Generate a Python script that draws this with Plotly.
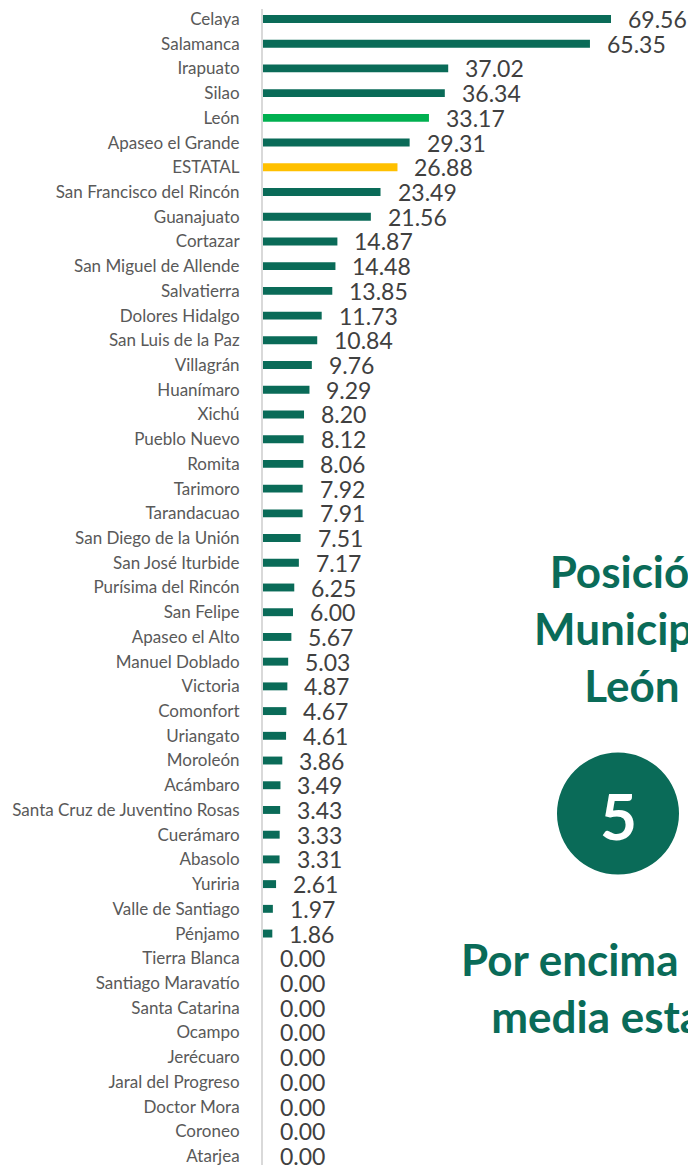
import plotly.graph_objects as go

categories = [
    "Celaya", "Salamanca", "Irapuato", "Silao", "León", "Apaseo el Grande", "ESTATAL",
    "San Francisco del Rincón", "Guanajuato", "Cortazar", "San Miguel de Allende",
    "Salvatierra", "Dolores Hidalgo", "San Luis de la Paz", "Villagrán", "Huanímaro",
    "Xichú", "Pueblo Nuevo", "Romita", "Tarimoro", "Tarandacuao", "San Diego de la Unión",
    "San José Iturbide", "Purísima del Rincón", "San Felipe", "Apaseo el Alto",
    "Manuel Doblado", "Victoria", "Comonfort", "Uriangato", "Moroleón", "Acámbaro",
    "Santa Cruz de Juventino Rosas", "Cuerámaro", "Abasolo", "Yuriria", "Valle de Santiago",
    "Pénjamo", "Tierra Blanca", "Santiago Maravatío", "Santa Catarina", "Ocampo",
    "Jerécuaro", "Jaral del Progreso", "Doctor Mora", "Coroneo", "Atarjea",
]
values = [
    69.56, 65.35, 37.02, 36.34, 33.17, 29.31, 26.88,
    23.49, 21.56, 14.87, 14.48,
    13.85, 11.73, 10.84, 9.76, 9.29,
    8.20, 8.12, 8.06, 7.92, 7.91, 7.51,
    7.17, 6.25, 6.00, 5.67,
    5.03, 4.87, 4.67, 4.61, 3.86, 3.49,
    3.43, 3.33, 3.31, 2.61, 1.97,
    1.86, 0.00, 0.00, 0.00, 0.00,
    0.00, 0.00, 0.00, 0.00, 0.00,
]
highlight_name = "León"
state_name = "ESTATAL"
position_text = "Posición<br>Municipio<br>León"
rank_text = "5"
note_text = "Por encima de la<br>media estatal"

DARK = "#0a6b58"
LEON = "#00b050"
STATE = "#ffc000"

colors = [LEON if c == highlight_name else STATE if c == state_name else DARK for c in categories]

# page body has an 8px margin; design in window pixels and convert
OFF = 8
WIN_W, WIN_H = 696, 1166
W, H = WIN_W - OFF, WIN_H - OFF
AXIS_X = 263 - OFF
PW = W - AXIS_X

fig = go.Figure()
fig.add_trace(go.Bar(
    x=values, y=categories, orientation="h",
    marker=dict(color=colors, line=dict(width=0)),
    width=0.32, hoverinfo="skip",
))

annotations = []
for c, v in zip(categories, values):
    annotations.append(dict(
        x=v, y=c, xref="x", yref="y", text=f"{v:.2f}", showarrow=False,
        xanchor="left", yanchor="middle", xshift=15,
        font=dict(family="Lato", size=23, color="#404040"),
    ))

def px_x(p):
    return (p - OFF - AXIS_X) / PW

def px_y(p):
    return 1 - (p - OFF) / H

annotations.append(dict(
    x=px_x(632), y=px_y(628), xref="paper", yref="paper", text=position_text,
    showarrow=False, xanchor="center", yanchor="middle", align="center",
    font=dict(family="Lato", size=44, color=DARK, weight="bold"),
))
annotations.append(dict(
    x=px_x(618), y=px_y(816), xref="paper", yref="paper", text=rank_text,
    showarrow=False, xanchor="center", yanchor="middle",
    font=dict(family="Lato", size=64, color="white", weight="bold"),
))
annotations.append(dict(
    x=px_x(621), y=px_y(988), xref="paper", yref="paper", text=note_text,
    showarrow=False, xanchor="center", yanchor="middle", align="center",
    font=dict(family="Lato", size=44, color=DARK, weight="bold"),
))

n = len(categories)
step = (1157 - 18) / (n - 1)
y_top = -(18 - OFF) / step
y_bot = (n - 1) + (WIN_H - 1157) / step

fig.add_shape(
    type="circle", xref="paper", yref="paper",
    xsizemode="pixel", ysizemode="pixel",
    xanchor=px_x(618), yanchor=px_y(814),
    x0=-61, x1=61, y0=-61, y1=61,
    fillcolor=DARK, line=dict(width=0), layer="below",
)

scale = 5.003
fig.update_layout(
    width=W, height=H,
    margin=dict(l=AXIS_X, r=0, t=0, b=0),
    paper_bgcolor="white", plot_bgcolor="white",
    showlegend=False,
    annotations=annotations,
    xaxis=dict(range=[0, PW / scale], visible=False, fixedrange=True),
    yaxis=dict(
        type="category", categoryorder="array", categoryarray=categories,
        range=[y_bot, y_top], showgrid=False, zeroline=False,
        showline=True, linecolor="#d9d9d9", linewidth=2,
        ticks="", ticklabelstandoff=18,
        tickfont=dict(family="Lato", size=17, color="#595959"),
    ),
)

fig.write_html("out.html")
